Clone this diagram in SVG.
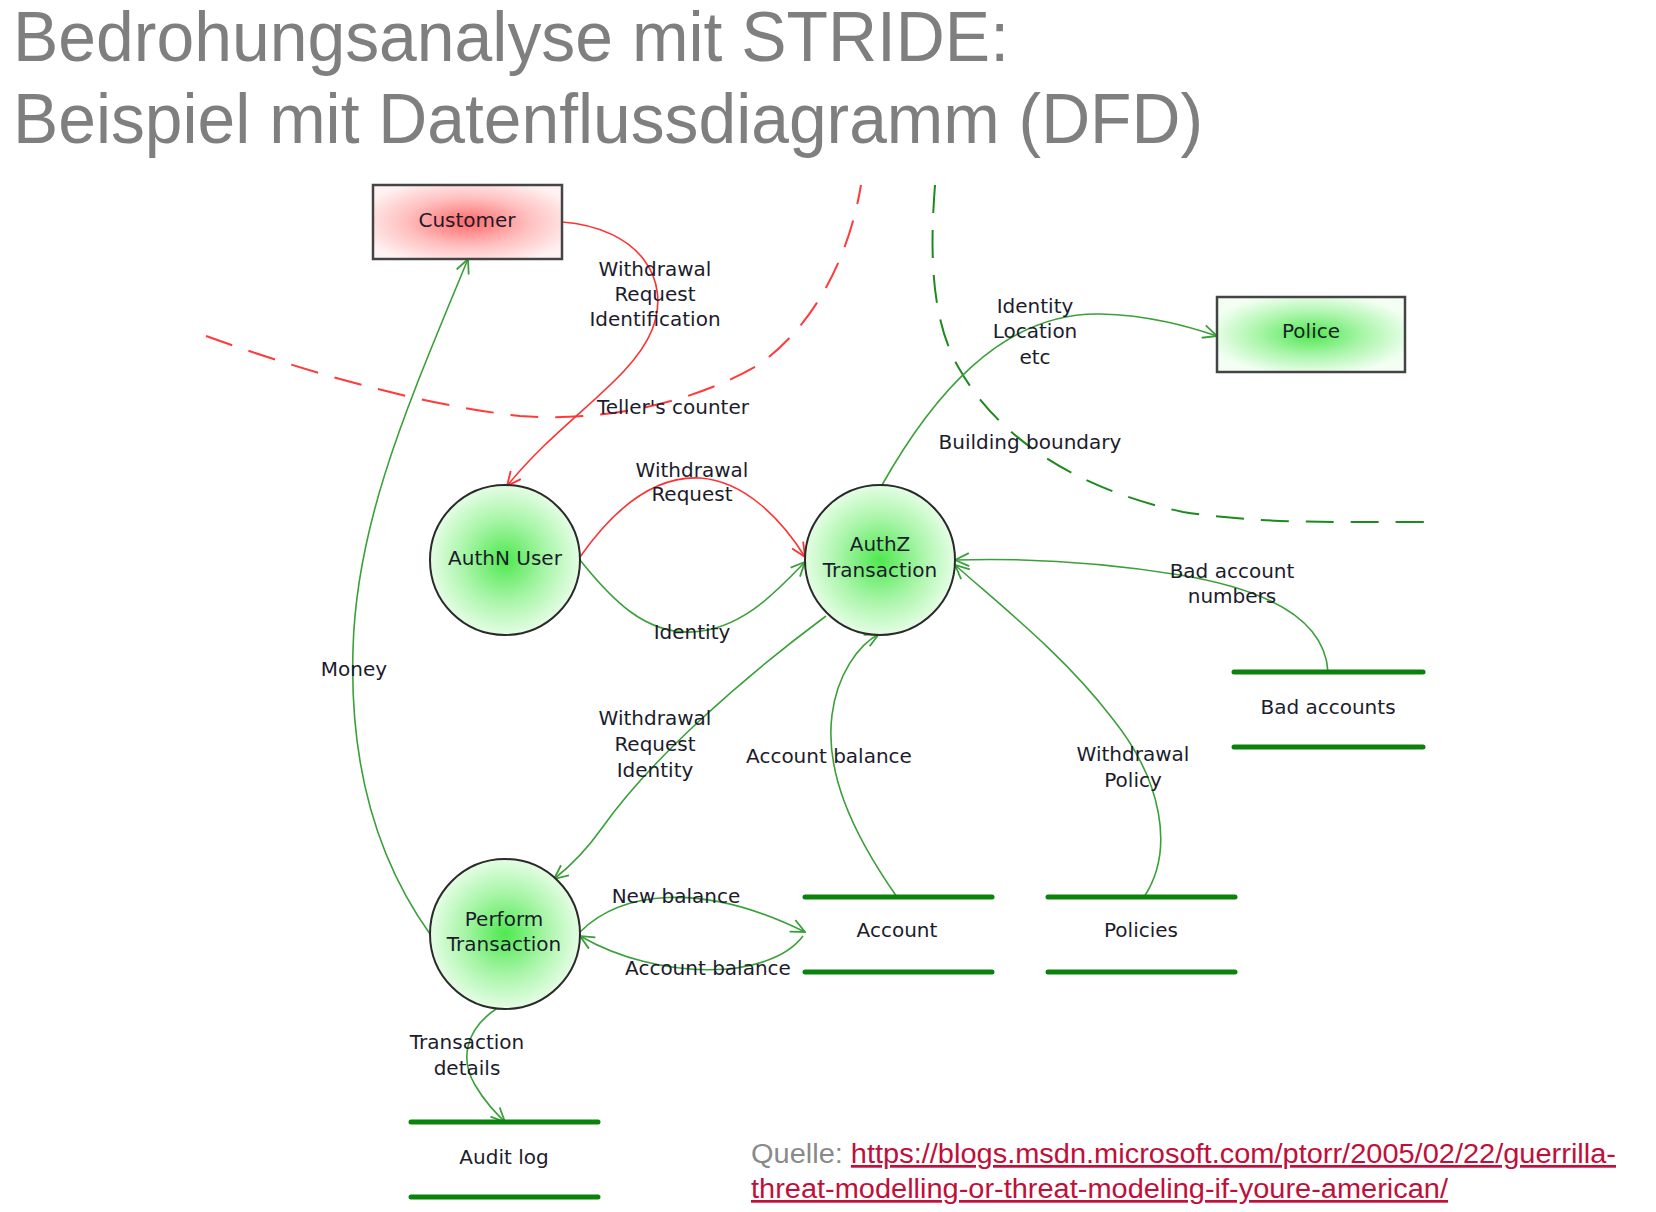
<svg xmlns="http://www.w3.org/2000/svg" width="1656" height="1212" viewBox="0 0 1656 1212">
<defs>
<radialGradient id="gGreen" cx="50%" cy="50%" r="55%">
<stop offset="0" stop-color="#4fe84f"/>
<stop offset="0.5" stop-color="#a8f5a8"/>
<stop offset="1" stop-color="#f2fff2"/>
</radialGradient>
<radialGradient id="gRed" cx="50%" cy="50%" r="60%">
<stop offset="0" stop-color="#ff6a6a"/>
<stop offset="0.55" stop-color="#ffc0c0"/>
<stop offset="1" stop-color="#fff2f2"/>
</radialGradient>
<marker id="aG" markerUnits="userSpaceOnUse" viewBox="0 0 16 16" refX="15" refY="8" markerWidth="16" markerHeight="16" orient="auto">
<path d="M1,1.5 L15,8 L1,14.5" fill="none" stroke="#3aa03a" stroke-width="1.8"/>
</marker>
<marker id="aR" markerUnits="userSpaceOnUse" viewBox="0 0 16 16" refX="15" refY="8" markerWidth="16" markerHeight="16" orient="auto">
<path d="M1,1.5 L15,8 L1,14.5" fill="none" stroke="#ff3030" stroke-width="1.8"/>
</marker>
</defs>
<style>
.title{font-family:"Liberation Sans",Arial,sans-serif;fill:#7f7f7f;font-size:70px}
.lbl{font-family:"DejaVu Sans",Verdana,sans-serif;font-size:20px;fill:#1c1c2c;text-anchor:middle;dominant-baseline:central}
.ent{fill:url(#gRed);stroke:#444;stroke-width:2.5}
.entg{fill:url(#gGreen);stroke:#444;stroke-width:2.5}
.proc{fill:url(#gGreen);stroke:#2a2a2a;stroke-width:2}
.store{stroke:#0b820b;stroke-width:5;stroke-linecap:round}
.fg{fill:none;stroke:#3aa03a;stroke-width:1.6}
.fr{fill:none;stroke:#ff3030;stroke-width:1.6}
.bR{fill:none;stroke:#ff3a3a;stroke-width:2;stroke-dasharray:28 17}
.bG{fill:none;stroke:#1d8a1d;stroke-width:2;stroke-dasharray:28 17}
.src{font-family:"Liberation Sans",Arial,sans-serif;font-size:27px}
</style>
<rect width="1656" height="1212" fill="#ffffff"/>
<text class="title" x="13" y="61" textLength="996" lengthAdjust="spacingAndGlyphs">Bedrohungsanalyse mit STRIDE:</text>
<text class="title" x="13" y="143" textLength="1190" lengthAdjust="spacingAndGlyphs">Beispiel mit Datenflussdiagramm (DFD)</text>

<g id="boundaries">
<path class="bR" d="M206 336 C300 370, 420 405, 520 416 C600 422, 690 405, 760 364 C820 320, 850 250, 861 185"/>
<path class="bG" d="M935 185 C930 250, 930 320, 960 370 C1000 440, 1080 490, 1183 512 C1260 524, 1340 522, 1426 522"/>
<text class="lbl" x="673" y="407">Teller's counter</text>
<text class="lbl" x="1030" y="442">Building boundary</text>
</g>

<g id="connectors">
<path class="fr" marker-end="url(#aR)" d="M562 222 C640 228, 672 280, 652 330 C632 380, 560 420, 507 486"/>
<path class="fr" marker-end="url(#aR)" d="M580 557 C620 500, 660 476, 700 478 C745 481, 782 520, 805 557"/>
<path class="fg" marker-end="url(#aG)" d="M580 560 C612 600, 645 634, 692 632 C742 630, 778 590, 805 562"/>
<path class="fg" marker-end="url(#aG)" d="M882 485 C930 400, 1000 312, 1100 314 C1150 315, 1190 327, 1217 336"/>
<path class="fg" marker-end="url(#aG)" d="M1328 672 C1325 620, 1270 590, 1180 575 C1100 562, 1020 558, 955 560"/>
<path class="fg" marker-end="url(#aG)" d="M1144 897 C1175 850, 1162 780, 1112 718 C1064 655, 1000 605, 955 565"/>
<path class="fg" marker-end="url(#aG)" d="M897 897 C850 830, 825 770, 832 715 C837 675, 858 645, 879 634"/>
<path class="fg" marker-end="url(#aG)" d="M826 616 C740 680, 650 760, 602 828 C585 852, 568 868, 554 879"/>
<path class="fg" marker-end="url(#aG)" d="M430 934 C370 850, 350 750, 353 650 C356 520, 410 400, 468 259"/>
<path class="fg" marker-end="url(#aG)" d="M580 932 C620 892, 700 880, 805 932"/>
<path class="fg" marker-end="url(#aG)" d="M803 936 C770 980, 660 982, 580 936"/>
<path class="fg" marker-end="url(#aG)" d="M496 1009 C465 1030, 460 1060, 475 1085 C485 1102, 495 1112, 505 1122"/>
<text class="lbl" x="655" y="269">Withdrawal</text>
<text class="lbl" x="655" y="294">Request</text>
<text class="lbl" x="655" y="319">Identification</text>
<text class="lbl" x="692" y="470">Withdrawal</text>
<text class="lbl" x="692" y="494">Request</text>
<text class="lbl" x="692" y="632">Identity</text>
<text class="lbl" x="1035" y="306">Identity</text>
<text class="lbl" x="1035" y="331">Location</text>
<text class="lbl" x="1035" y="357">etc</text>
<text class="lbl" x="1232" y="571">Bad account</text>
<text class="lbl" x="1232" y="596">numbers</text>
<text class="lbl" x="354" y="669">Money</text>
<text class="lbl" x="655" y="718">Withdrawal</text>
<text class="lbl" x="655" y="744">Request</text>
<text class="lbl" x="655" y="770">Identity</text>
<text class="lbl" x="829" y="756">Account balance</text>
<text class="lbl" x="1133" y="754">Withdrawal</text>
<text class="lbl" x="1133" y="780">Policy</text>
<text class="lbl" x="676" y="896">New balance</text>
<text class="lbl" x="708" y="968">Account balance</text>
<text class="lbl" x="467" y="1042">Transaction</text>
<text class="lbl" x="467" y="1068">details</text>
</g>

<g id="customer">
<rect class="ent" x="373" y="185" width="189" height="74"/>
<text class="lbl" x="467" y="220">Customer</text>
</g>
<g id="police">
<rect class="entg" x="1217" y="297" width="188" height="75"/>
<text class="lbl" x="1311" y="331">Police</text>
</g>
<g id="authn-user">
<circle class="proc" cx="505" cy="560" r="75"/>
<text class="lbl" x="505" y="558">AuthN User</text>
</g>
<g id="authz-transaction">
<circle class="proc" cx="880" cy="560" r="75"/>
<text class="lbl" x="880" y="544">AuthZ</text>
<text class="lbl" x="880" y="570">Transaction</text>
</g>
<g id="perform-transaction">
<circle class="proc" cx="505" cy="934" r="75"/>
<text class="lbl" x="504" y="919">Perform</text>
<text class="lbl" x="504" y="944">Transaction</text>
</g>
<g id="bad-accounts">
<line class="store" x1="1234" y1="672" x2="1423" y2="672"/>
<line class="store" x1="1234" y1="747" x2="1423" y2="747"/>
<text class="lbl" x="1328" y="707">Bad accounts</text>
</g>
<g id="account">
<line class="store" x1="805" y1="897" x2="992" y2="897"/>
<line class="store" x1="805" y1="972" x2="992" y2="972"/>
<text class="lbl" x="897" y="930">Account</text>
</g>
<g id="policies">
<line class="store" x1="1048" y1="897" x2="1235" y2="897"/>
<line class="store" x1="1048" y1="972" x2="1235" y2="972"/>
<text class="lbl" x="1141" y="930">Policies</text>
</g>
<g id="audit-log">
<line class="store" x1="411" y1="1122" x2="598" y2="1122"/>
<line class="store" x1="411" y1="1197" x2="598" y2="1197"/>
<text class="lbl" x="504" y="1157">Audit log</text>
</g>

<g id="source">
<text class="src" x="751" y="1163" textLength="865" lengthAdjust="spacingAndGlyphs"><tspan fill="#8a8a8a">Quelle: </tspan><tspan fill="#c0103a" text-decoration="underline">https://blogs.msdn.microsoft.com/ptorr/2005/02/22/guerrilla-</tspan></text>
<text class="src" x="751" y="1198" textLength="697" lengthAdjust="spacingAndGlyphs" fill="#c0103a" text-decoration="underline">threat-modelling-or-threat-modeling-if-youre-american/</text>
</g>
</svg>
